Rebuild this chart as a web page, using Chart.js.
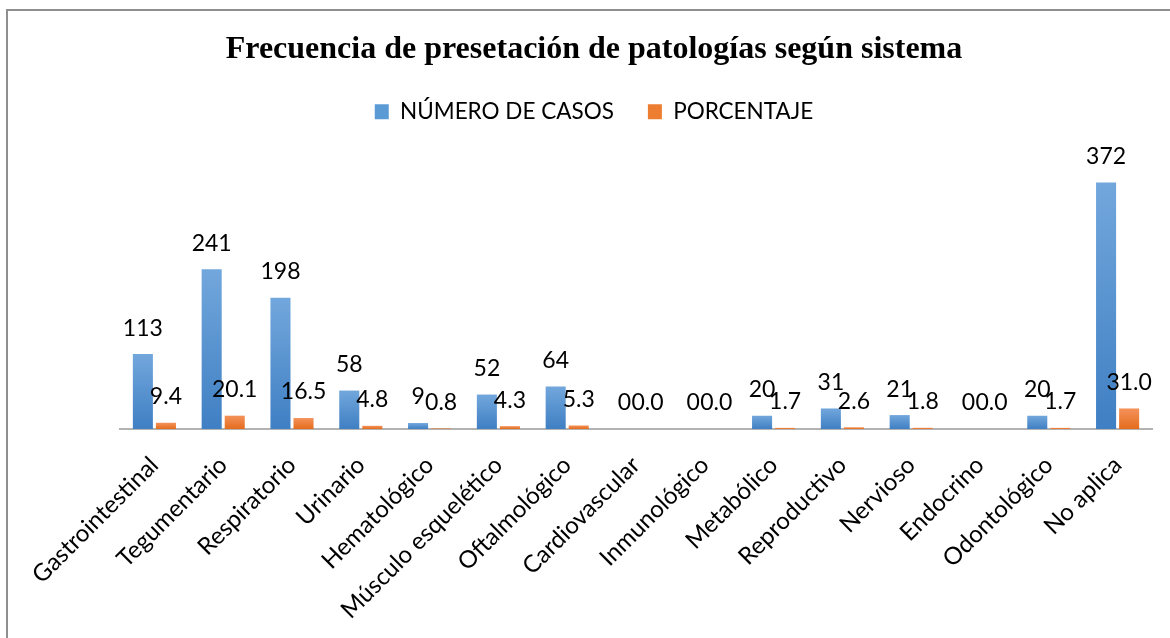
<!DOCTYPE html>
<html>
<head>
<meta charset="utf-8">
<script src="https://cdn.jsdelivr.net/npm/chart.js@4.4.1/dist/chart.umd.min.js"></script>
<style>
  html, body { margin: 0; padding: 0; background: #fff; overflow: hidden; }
  #wrap { position: relative; width: 1170px; height: 638px; overflow: hidden; }
  #frame { position: absolute; left: 6px; top: 9px; width: 1300px; height: 700px;
           border-left: 2px solid #8f8f8f; border-top: 2px solid #8f8f8f; pointer-events: none; }
  canvas { position: absolute; left: 0; top: 0; }
</style>
</head>
<body>
<div id="wrap">
  <canvas id="patologiasChart" width="1180" height="638"></canvas>
  <div id="frame"></div>
</div>
<script>
const sistemas = ['Gastrointestinal', 'Tegumentario', 'Respiratorio', 'Urinario', 'Hematológico',
    'Músculo esquelético', 'Oftalmológico', 'Cardiovascular', 'Inmunológico', 'Metabólico',
    'Reproductivo', 'Nervioso', 'Endocrino', 'Odontológico', 'No aplica'];
const numeroCasos = [113, 241, 198, 58, 9, 52, 64, 0, 0, 20, 31, 21, 0, 20, 372];
const porcentaje = [9.4, 20.1, 16.5, 4.8, 0.8, 4.3, 5.3, 0.0, 0.0, 1.7, 2.6, 1.8, 0.0, 1.7, 31.0];

// gradient per bar, lighter at top like the Excel original
function barGradient(light, dark, solid) {
    return function (c) {
        const chart = c.chart;
        if (!chart.chartArea || c.parsed === undefined) return solid;
        const y = chart.scales.y;
        const top = y.getPixelForValue(c.parsed.y);
        const base = y.getPixelForValue(0);
        if (base - top < 1) return solid;
        const g = chart.ctx.createLinearGradient(0, top, 0, base);
        g.addColorStop(0, light);
        g.addColorStop(1, dark);
        return g;
    };
}

// value labels above the bars
const valueLabels = {
    id: 'valueLabels',
    afterDatasetsDraw(chart) {
        const ctx = chart.ctx;
        ctx.save();
        ctx.font = '23px Lato';
        ctx.fillStyle = '#000';
        ctx.textAlign = 'center';
        ctx.textBaseline = 'middle';
        chart.data.datasets.forEach((ds, i) => {
            chart.getDatasetMeta(i).data.forEach((bar, j) => {
                const v = ds.data[j];
                const txt = i === 0 ? String(v) : v.toFixed(1);
                ctx.fillText(txt, bar.x, bar.y - 26);
            });
        });
        ctx.restore();
    }
};

const ctx = document.getElementById('patologiasChart').getContext('2d');
const patologiasChart = new Chart(ctx, {
    type: 'bar',
    data: {
        labels: sistemas,
        datasets: [{
            label: 'NÚMERO DE CASOS',
            data: numeroCasos,
            backgroundColor: barGradient('#72a7dc', '#3f7fc3', '#5b9bd5'),
            categoryPercentage: 0.67,
            barPercentage: 0.87
        }, {
            label: 'PORCENTAJE',
            data: porcentaje,
            backgroundColor: barGradient('#f4925a', '#e46c1c', '#ed7d31'),
            categoryPercentage: 0.67,
            barPercentage: 0.87
        }]
    },
    options: {
        responsive: false,
        animation: false,
        layout: { padding: { left: 8, top: 11, right: 0, bottom: 0 } },
        scales: {
            x: {
                grid: { display: false },
                border: { display: true, color: '#b3b3b3', width: 2 },
                ticks: {
                    autoSkip: false,
                    minRotation: 45,
                    maxRotation: 45,
                    padding: 14,
                    color: '#000',
                    font: { family: 'Lato', size: 24 }
                },
                afterFit: s => { s.height = 209; }
            },
            xTop: {
                type: 'category',
                position: 'top',
                grid: { display: false },
                border: { display: false },
                ticks: { display: false },
                afterFit: s => { s.height = 31; }
            },
            y: {
                min: 0,
                max: 400,
                grid: { display: false },
                border: { display: false },
                ticks: { display: false },
                afterFit: s => { s.width = 112; }
            },
            y2: {
                position: 'right',
                grid: { display: false },
                border: { display: false },
                ticks: { display: false },
                afterFit: s => { s.width = 28; }
            }
        },
        plugins: {
            title: {
                display: true,
                text: 'Frecuencia de presetación de patologías según sistema',
                color: '#000',
                font: { family: 'Liberation Serif', size: 32, weight: 'bold' },
                padding: { top: 20, bottom: -3 }
            },
            legend: {
                display: true,
                position: 'top',
                labels: {
                    boxWidth: 14,
                    boxHeight: 15,
                    padding: 34,
                    color: '#000',
                    font: { family: 'Lato', size: 22.5 },
                    generateLabels: chart => [
                        { text: 'NÚMERO DE CASOS', fillStyle: '#5b9bd5', strokeStyle: '#5b9bd5', lineWidth: 0, datasetIndex: 0 },
                        { text: 'PORCENTAJE', fillStyle: '#ed7d31', strokeStyle: '#ed7d31', lineWidth: 0, datasetIndex: 1 }
                    ]
                }
            },
            tooltip: { enabled: false }
        }
    },
    plugins: [valueLabels]
});
</script>
</body>
</html>
